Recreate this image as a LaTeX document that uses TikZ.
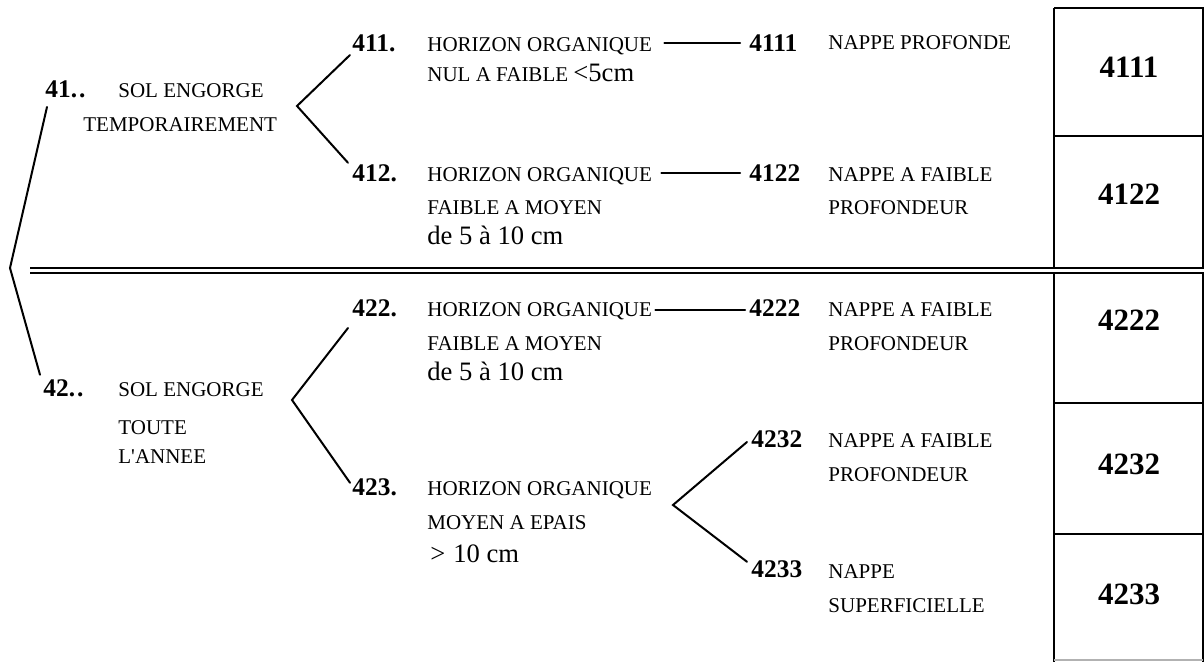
\documentclass[tikz,border=0pt]{standalone}
\usepackage{fontspec}
\setmainfont{Liberation Serif}
\begin{document}
\begin{tikzpicture}[x=0.5pt,y=-0.5pt,
  lab/.style={inner sep=0pt, anchor=base west, font=\fontsize{10.5}{12}\selectfont},
  big/.style={inner sep=0pt, anchor=base west, font=\fontsize{13.3}{15}\selectfont},
  num/.style={inner sep=0pt, anchor=base west, font=\fontsize{12.7}{14}\selectfont\bfseries},
  boxlab/.style={inner sep=0pt, font=\fontsize{15.5}{18}\selectfont\bfseries},
  ln/.style={line width=1pt, line cap=round},
  rule/.style={line width=0.9pt},
  cellline/.style={line width=1pt}]
\useasboundingbox[fill=white] (0,0) rectangle (1204,662);

% ---- left column
\node[num] (n41) at (45,98) {41.\kern1pt.};
\node[lab] (s41a) at (118,98) {SOL ENGORGE};
\node[lab] (s41b) at (83,132) {TEMPORAIREMENT};
\node[num] (n42) at (43,397) {42.\kern1pt.};
\node[lab] (s42a) at (118,397) {SOL ENGORGE};
\node[lab] (s42b) at (118,435) {TOUTE};
\node[lab] (s42c) at (118,463) {L\textquotesingle ANNEE};

% ---- middle column
\node[num] (n411) at (352,52) {411.};
\node[lab] (h411) at (427,52) {HORIZON ORGANIQUE};
\node[lab] (h411b) at (427,82) {NUL A FAIBLE {\fontsize{13.3}{15}\selectfont <5cm}};
\node[num] (n412) at (352,182) {412.};
\node[lab] (h412) at (427,182) {HORIZON ORGANIQUE};
\node[lab] (h412b) at (427,215) {FAIBLE A MOYEN};
\node[big] (h412c) at (427,245) {de 5 à 10 cm};
\node[num] (n422) at (352,317) {422.};
\node[lab] (h422) at (427,317) {HORIZON ORGANIQUE};
\node[lab] (h422b) at (427,351) {FAIBLE A MOYEN};
\node[big] (h422c) at (427,380) {de 5 à 10 cm};
\node[num] (n423) at (352,495) {423.};
\node[lab] (h423) at (427,495) {HORIZON ORGANIQUE};
\node[lab] (h423b) at (427,529) {MOYEN A EPAIS};
\node[big] (h423c) at (430,562) {>\kern4pt 10 cm};

% ---- right column
\node[num] (c4111) at (749,52) {4111};
\node[lab] (p4111) at (828,50) {NAPPE PROFONDE};
\node[num] (c4122) at (749,182) {4122};
\node[lab] (p4122a) at (828,182) {NAPPE A FAIBLE};
\node[lab] (p4122b) at (828,215) {PROFONDEUR};
\node[num] (c4222) at (749,317) {4222};
\node[lab] (p4222a) at (828,317) {NAPPE A FAIBLE};
\node[lab] (p4222b) at (828,351) {PROFONDEUR};
\node[num] (c4232) at (751,447) {4232};
\node[lab] (p4232a) at (828,447) {NAPPE A FAIBLE};
\node[lab] (p4232b) at (828,481) {PROFONDEUR};
\node[num] (c4233) at (751,577) {4233};
\node[lab] (p4233a) at (828,578) {NAPPE};
\node[lab] (p4233b) at (828,612) {SUPERFICIELLE};

% ---- code boxes
\draw[cellline] (1054,8) -- (1203,8) -- (1203,268);
\draw[cellline] (1054,8) -- (1054,268);
\draw[cellline] (1054,136) -- (1203,136);
\draw[cellline] (1054,273) -- (1054,662);
\draw[cellline] (1203,273) -- (1203,662);
\draw[cellline] (1054,403) -- (1203,403);
\draw[cellline] (1054,534) -- (1203,534);
\draw[line width=0.6pt, gray!60] (1054,660) -- (1203,660);
\node[boxlab] (k4111) at (1129,67) {4111};
\node[boxlab] (k4122) at (1129,194) {4122};
\node[boxlab] (k4222) at (1129,320) {4222};
\node[boxlab] (k4232) at (1129,464) {4232};
\node[boxlab] (k4233) at (1129,594) {4233};

% ---- double separator
\draw[rule] (30,268) -- (1204,268);
\draw[rule] (30,273) -- (1204,273);

% ---- brackets
\coordinate (b4) at (10,268);
\coordinate (b41) at (297,106);
\coordinate (b42) at (292,400);
\coordinate (b423) at (673,505);
\draw[ln] ([shift={(1pt,-4.5pt)}]n41.base west) -- (b4) -- ([shift={(-1.5pt,2.5pt)}]n42.north west);
\draw[ln] ([shift={(-1pt,-1.5pt)}]n411.base west) -- (b41) -- ([shift={(-2pt,1pt)}]n412.north west);
\draw[ln] ([shift={(-2pt,-5.5pt)}]n422.base west) -- (b42) -- ([shift={(-1pt,-2.5pt)}]n423.north west);
\draw[ln] ([shift={(-2pt,2.5pt)}]c4232.base west) -- (b423) -- ([shift={(-2pt,-1pt)}]c4233.north west);

% ---- horizontal links
\draw[ln] ([shift={(6pt,4.5pt)}]h411.base east) -- ([shift={(-4.5pt,4.5pt)}]c4111.base west);
\draw[ln] ([shift={(4.5pt,4.5pt)}]h412.base east) -- ([shift={(-4.5pt,4.5pt)}]c4122.base west);
\draw[ln] ([shift={(1.5pt,3.5pt)}]h422.base east) -- ([shift={(-2pt,3.5pt)}]c4222.base west);
\end{tikzpicture}
\end{document}
